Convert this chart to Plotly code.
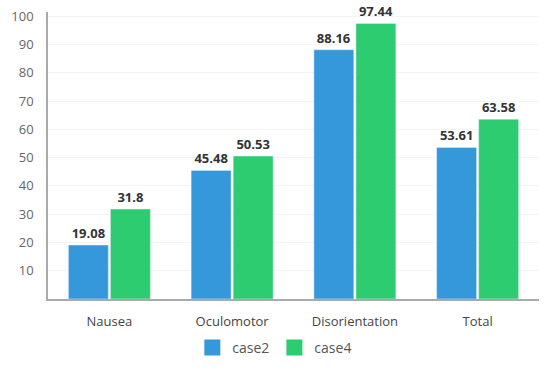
import plotly.graph_objects as go

categories = ["Nausea", "Oculomotor", "Disorientation", "Total"]
case2 = [19.08, 45.48, 88.16, 53.61]
case4 = [31.8, 50.53, 97.44, 63.58]
case2_labels = ["19.08", "45.48", "88.16", "53.61"]
case4_labels = ["31.8", "50.53", "97.44", "63.58"]
y_ticks = [10, 20, 30, 40, 50, 60, 70, 80, 90, 100]
series_names = ["case2", "case4"]
series_colors = ["#3498db", "#2ecc71"]

FONT = "Open Sans, Noto Sans, sans-serif"

fig = go.Figure()
for name, vals, labels, color in zip(series_names, [case2, case4], [case2_labels, case4_labels], series_colors):
    fig.add_trace(go.Bar(name=name, x=categories, y=vals, marker_color=color,
                         text=labels, textposition="outside", cliponaxis=False, showlegend=False,
                         textfont=dict(family=FONT, size=13, color="#333333", weight="bold")))
# legend-only entries with larger square swatches
for name, color in zip(series_names, series_colors):
    fig.add_trace(go.Scatter(name=name, x=[None], y=[None], mode="markers",
                             marker=dict(symbol="square", size=17, color=color)))

fig.update_layout(
    width=546, height=384,
    margin=dict(l=48, r=7, t=12, b=85),
    paper_bgcolor="white", plot_bgcolor="white",
    barmode="group", bargap=0.315, bargroupgap=0.05,
    font=dict(family=FONT, size=13, color="#555555"),
    showlegend=True,
    legend=dict(orientation="h", x=0.462, xanchor="center", y=-0.115, yanchor="top",
                font=dict(size=14, color="#555555"), itemwidth=30, tracegroupgap=0),
)
fig.update_xaxes(showline=True, linecolor="#aaaaaa", linewidth=1.5,
                 showgrid=False, tickfont=dict(size=13, color="#444444"),
                 ticks="", ticklabelstandoff=10)
fig.update_yaxes(range=[0, 101.5], tickvals=y_ticks, showline=True, linecolor="#aaaaaa",
                 linewidth=1.5, showgrid=True, gridcolor="#f4f4f4", zeroline=False,
                 tickfont=dict(size=13, color="#666666"), ticks="", ticklabelstandoff=10)

fig.write_html("out.html")
